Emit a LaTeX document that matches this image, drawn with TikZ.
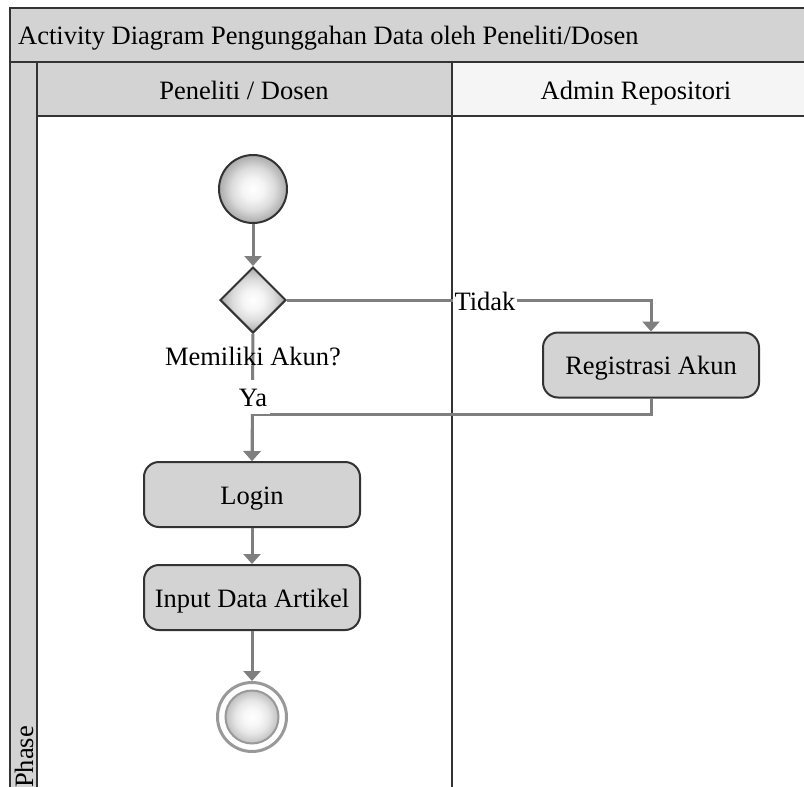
\documentclass[tikz,border=0pt]{standalone}
\usepackage{fontspec}
\setmainfont{Liberation Serif}
\usetikzlibrary{shapes.geometric,arrows.meta}

\definecolor{laneGray}{HTML}{D3D3D3}
\definecolor{laneLight}{HTML}{F5F5F5}
\definecolor{edgeDark}{HTML}{333333}
\definecolor{flowGray}{HTML}{7F7F7F}
\definecolor{ringGray}{HTML}{999999}

% soft ball shading: white core, grey towards the rim
\pgfdeclareradialshading{softball}{\pgfpoint{0bp}{0bp}}{%
  color(0bp)=(white); color(8bp)=(white!96!black); color(16bp)=(white!86!black);
  color(22bp)=(white!73!black); color(28bp)=(white!61!black); color(50bp)=(white!55!black)}
% lighter variant for the final node
\pgfdeclareradialshading{softballlight}{\pgfpoint{0bp}{0bp}}{%
  color(0bp)=(white); color(8bp)=(white!97!black); color(16bp)=(white!90!black);
  color(22bp)=(white!80!black); color(28bp)=(white!70!black); color(50bp)=(white!65!black)}

\begin{document}
\begin{tikzpicture}[x=1pt,y=-1pt,
  every node/.style={font=\fontsize{26.5}{31}\selectfont},
  frame/.style={draw=edgeDark,line width=2pt},
  activity/.style={draw=edgeDark,line width=2pt,fill=laneGray,rounded corners=15pt,
    minimum width=216pt,minimum height=65pt,inner sep=0pt,text height=19pt,text depth=0pt},
  flow/.style={draw=flowGray,line width=3pt,-{Triangle[width=17pt,length=10pt]}},
  startnode/.style={circle,draw=edgeDark,line width=2pt,minimum size=68pt,inner sep=0pt,
    shading=softball},
  decision/.style={diamond,aspect=1,draw=edgeDark,line width=2pt,minimum width=66pt,
    minimum height=66pt,inner sep=0pt,shading=softball},
  endring/.style={circle,draw=ringGray,line width=3pt,fill=white,minimum size=69pt,inner sep=0pt},
  endcore/.style={circle,draw=ringGray,line width=2pt,minimum size=53pt,inner sep=0pt,
    shading=softballlight},
  guard/.style={inner sep=2pt,anchor=base}
]
\useasboundingbox (0,0) rectangle (804,787);
\clip (0,0) rectangle (804,787);

% swimlane frame
\path[frame,fill=laneGray] (10,8) rectangle (840,62);
\path[frame,fill=laneGray] (10,62) rectangle (37,800);
\path[frame,fill=laneGray] (37,62) rectangle (452,116);
\path[frame,fill=laneLight] (452,62) rectangle (840,116);
\path[frame,fill=white] (37,116) rectangle (452,800);
\path[frame,fill=white] (452,116) rectangle (840,800);

% lane captions
\node[anchor=base west,inner sep=0pt] (title) at (18,45) {Activity Diagram Pengunggahan Data oleh Peneliti/Dosen};
\node[anchor=base,inner sep=0pt] (laneA) at (244,99) {Peneliti / Dosen};
\node[anchor=base,inner sep=0pt] (laneB) at (636,99) {Admin Repositori};
\node[rotate=90,anchor=base west,inner sep=0pt] (phase) at (33,788) {Phase};

% activity nodes
\node[startnode] (start) at (253,189) {};
\node[decision] (dec) at (253,300) {};
\node[activity] (reg) at (651,365) {Registrasi Akun};
\node[activity] (login) at (252,494.5) {Login};
\node[activity] (input) at (252,597.5) {Input Data Artikel};
\node[endring] (finish) at (252,717) {};
\node[endcore] (finishcore) at (252,717) {};

% flows
\draw[flow] (start.south) -- (dec.north);
\draw[flow] (dec.east) -| (reg.north);
\draw[flow] (dec.south) -- (login.north);
\draw[flow] (reg.south) -- ++(0,16) -| (login.north);
\draw[flow] (login.south) -- (input.north);
\draw[flow] (input.south) -- (finish.north);

% guards and labels
\node[guard] (qAkun) at (253,365) {Memiliki Akun?};
\node[guard,fill=white,inner sep=3pt,text height=23pt,text depth=5pt] (gYa) at (253,406) {Ya};
\node[guard,fill=white] (gTidak) at (485,310) {Tidak};
\end{tikzpicture}
\end{document}
